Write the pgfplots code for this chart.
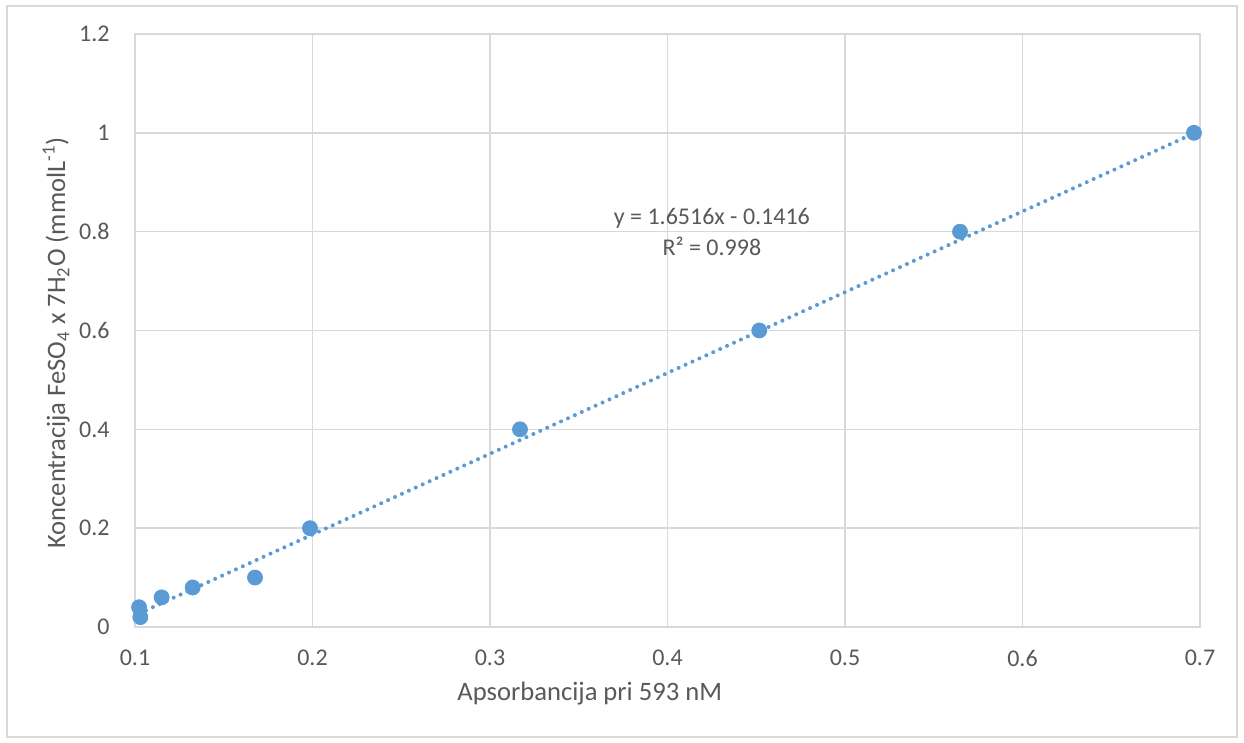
\documentclass[border=0pt]{standalone}
\usepackage{fontspec}
\setmainfont{Carlito}
\usepackage{pgfplots}
\pgfplotsset{compat=1.18}
\definecolor{txtgray}{HTML}{595959}
\definecolor{gridgray}{HTML}{D9D9D9}
\definecolor{xlblue}{HTML}{5B9BD5}
\begin{document}
\begin{tikzpicture}
\useasboundingbox (0,0) rectangle (622bp,371.5bp);
\fill[white] (0,0) rectangle (622bp,371.5bp);
\draw[gridgray, line width=0.75bp] (3.5bp,3bp) rectangle (618.5bp,368.5bp);
\begin{axis}[
  at={(67.5bp,58bp)}, anchor=south west,
  scale only axis, width=532.5bp, height=296.5bp,
  xmin=0.1, xmax=0.7, ymin=0, ymax=1.2,
  xtick={0.1,0.2,0.3,0.4,0.5,0.6,0.7},
  ytick={0,0.2,0.4,0.6,0.8,1,1.2},
  major tick length=0pt,
  grid=major,
  grid style={gridgray, line width=0.75bp},
  axis line style={gridgray, line width=0.75bp},
  /pgf/number format/assume math mode=true,
  ticklabel style={font=\fontsize{12bp}{14bp}\selectfont, text=txtgray, inner sep=0pt},
  yticklabel style={xshift=-12.5bp},
  xticklabel style={yshift=-11.5bp},
  xlabel={Apsorbancija pri 593 nM},
  ylabel={Koncentracija FeSO\textsubscript{4} x 7H\textsubscript{2}O (mmolL\textsuperscript{-1})},
  label style={font=\fontsize{13.3bp}{16bp}\selectfont, text=txtgray, inner sep=0pt},
  xlabel style={at={(axis description cs:0.427,-0.1243)}, anchor=base},
  ylabel style={at={(axis description cs:-0.0657,0.479)}, anchor=base, rotate=0},
  clip=false,
]
\addplot[xlblue, line width=2bp, line cap=round, dash pattern=on 0pt off 3.8bp] coordinates {(0.1023,0.0274) (0.6966,0.9989)};
\addplot[only marks, mark=*, mark size=3.75bp, mark options={fill=xlblue, draw=xlblue}] coordinates {
(0.1023,0.04) (0.1030,0.02) (0.1150,0.06) (0.1325,0.08) (0.1676,0.10)
(0.1986,0.2) (0.3169,0.4) (0.4517,0.6) (0.5648,0.8) (0.6966,1.0)};
\node[align=center, text=txtgray, font=\fontsize{12bp}{15.5bp}\selectfont] at (axis cs:0.425,0.80) {y = 1.6516x - 0.1416\\R² = 0.998};
\end{axis}
\end{tikzpicture}
\end{document}
